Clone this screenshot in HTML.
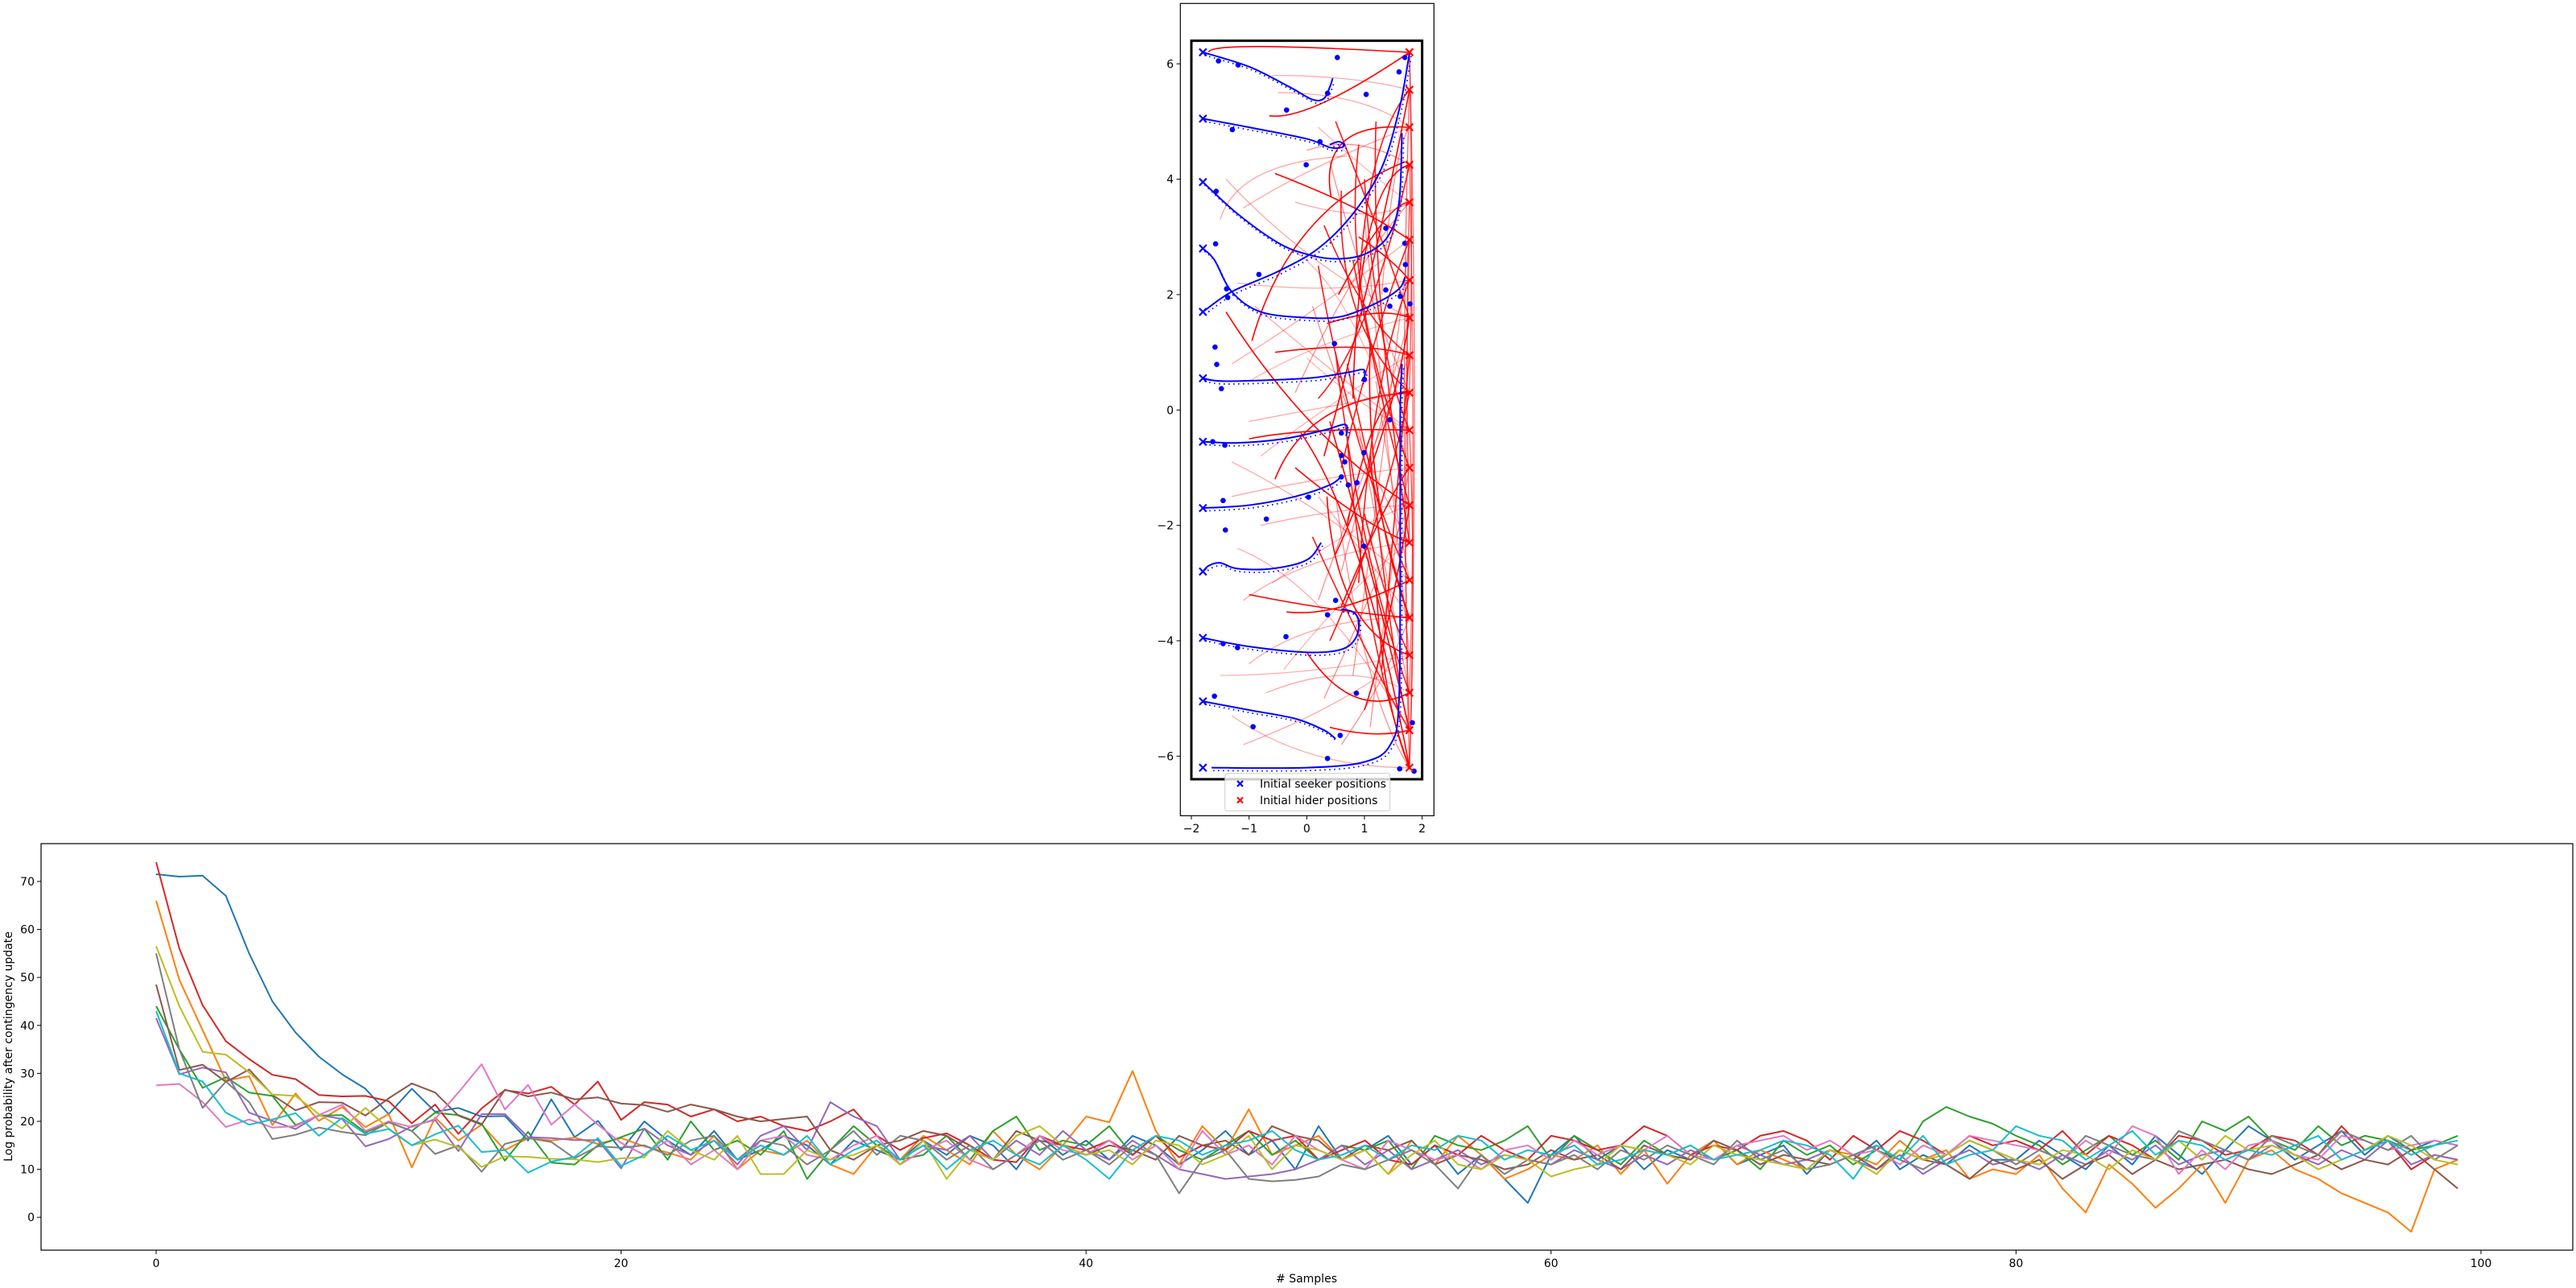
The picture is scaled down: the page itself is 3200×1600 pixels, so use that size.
<!DOCTYPE html>
<html><head><meta charset="utf-8"><style>
html,body{margin:0;padding:0;background:#fff}
svg{display:block;font-family:"DejaVu Sans","Liberation Sans",sans-serif}
</style></head><body>
<svg id="fig" width="3200" height="1600" viewBox="0 0 3200 1600" xmlns="http://www.w3.org/2000/svg">
<rect width="3200" height="1600" fill="#fff"/>
<g id="topG"></g>
<g id="botG"></g>
</svg>
<script>
// ===== Bottom chart data =====
const sampleCount = 100;
const xTicks = [0,20,40,60,80,100];
const yTicks = [0,10,20,30,40,50,60,70];
const seriesColors = ['#1f77b4','#ff7f0e','#2ca02c','#d62728','#9467bd','#8c564b','#e377c2','#7f7f7f','#bcbd22','#17becf'];
const sBlue = [71.5,71,71.2,67,55,45,38.5,33.5,29.8,26.8,21.5,26.8,22,22.8,21,21.1,16,24.6,16.7,20.1,14,20,16,13,18,12,14,17,15,11,16,14,12,16,13,17,15,10,17,13,16,12,17,15,11,14,18,13,16,10,19,12,14,17,11,15,9,13,8,3,13,17,12,15,10,14,12,16,11,13,15,9,14,12,16,10,13,11,15,12,12,16,13,10,15,11,17,13,9,14,19,16,12,15,18,13,17,14,16,15];
const sOrange = [66,49.5,39,28.5,29.4,19.2,25.8,20.1,23,18.8,21.5,10.4,20.8,16,19.3,14,16.5,16,16.6,15.3,16.5,14.8,13.5,12,17,10,14,13,16,11,9,15,12,17,14,11,18,13,10,15,21,19.8,30.5,18,11,19,14,22.5,13,15,17,12,14,9,16,11,17,13,8,10,13,12,15,9,14,7,13,16,11,14,12,10,14,13,11,16,12,14,8,10,9,13,6,1,11,7,2,6,11,3,12,14,10,8,5,3,1,-3,10,12];
const sGreen = [44,35,27,29.2,26,25.3,19.2,21.2,21.3,17.7,19.8,18,21.8,21.3,19.5,11.8,17.8,11.4,11,15,16.7,18.5,12,20,14,16,13,18,8,14,19,15,12,13,17,12,18,21,14,16,15,19,13,17,14,12,15,18,13,16,12,15,14,16,10,17,15,14,16,19,12,17,14,11,16,13,15,12,14,10,16,13,15,11,14,12,20,23,21,19.5,17,15,11,14,17,13,16,12,20,18,21,16,14,19,15,17,16,14,15,17];
const sRed = [74,56,44.2,36.7,33,29.7,28.8,25.5,25.2,25.3,24.2,19.6,23.5,17.4,22.7,26.5,25.8,27.2,23.5,28.3,20.3,24,23.5,21,22.5,20,21,19,18,20,22.5,17,14,16.5,17.5,15,12,11.5,17,15,14,16,13,17,12.5,15,14,18,16,17,12,14,16,12,11,15,13,17,14,12,17,16,14,15,19,17,13,15,14,17,18,16,12,17,14,18,16,13,17,15,16,14,18,13,17,15,12,17,16,13,14,17,16,13,19,14,16,10,13,12];
const sPurple = [41.5,29.8,31.2,30.2,21.8,20.1,18.4,21.3,20.5,14.8,16.3,19,20.3,13.8,21.5,21.5,16.7,16.5,16.1,16.1,10.2,18.5,15,13,16,11,17,19,14,24,21,19,12,15,14,17,12,16,13,18,14,12,16,13,10,9,8,8.5,9,10,12,15,11,14,10,12,14,11,13,12,11,14,12,10,13,11,14,12,15,13,11,12,14,12,10,13,9,12,14,11,12,10,13,11,14,12,15,11,13,14,12,15,13,11,14,12,16,11,13,12];
const sBrown = [48.5,30.7,31.8,28.2,30.8,25.5,22.3,24,23.9,21.2,24.8,27.9,26,21.2,19.3,26.6,25.2,26,24.6,25,23.7,23.4,22,23.5,22.5,21,20,20.5,21,14,12,15,16,18,17,14,12,18,16,15,13,15,14,12,17,15,16,13,19,17,16,12,15,14,16,11,13,12,10,11,14,12,13,10,15,13,12,16,14,11,13,12,11,13,10,14,12,11,8,12,10,12,8,11,13,9,12,10,11,12,10,9,11,13,10,12,11,14,10,6];
const sPink = [27.5,27.8,24,18.8,20.4,18.7,19,21.3,23.5,18,20,18.8,20.5,26,31.9,22.5,27.6,19.3,23.5,19.3,15.5,13,16,11,14,10,16,17,13,12,15,17,11,14,16,12,10,13,17,14,13,16,12,15,10,18,13,15,11,17,14,12,10,16,14,12,13,10,14,15,12,16,13,15,14,17,13,12,15,16,17,14,16,13,14,11,15,13,17,16,15,14,12,16,13,19,17,9,14,10,15,16,13,12,17,16,14,15,16,15];
const sGray = [55,35,22.8,28.3,24,16.3,17.2,18.7,17.8,17.1,19.8,18,13.2,15,9.5,15.3,16.5,15.7,12.3,14.8,14.5,15,13,16,17,12,16,15,11,14,18,13,17,16,12,15,10,13,16,12,14,11,15,13,5,12,14,8,7.5,7.8,8.5,11,10,12,14,11,6,13,9,12,11,13,10,14,12,15,13,11,16,12,14,10,11,13,15,12,10,13,16,14,11,14,12,17,15,13,12,18,16,14,12,17,15,13,18,16,14,17,12,15];
const sOlive = [56.5,44,34.5,33.9,30.2,25.6,25.3,21.5,18.5,22.8,18.5,15,16.2,14.6,10.5,12.7,12.6,12.2,12.1,11.5,12.3,12.5,18,14,12,17,9,9,14,12,13,15,11,16,8,14,12,17,19,15,13,14,11,16,15,11,13,17,10,15,14,12,14,9,13,16,11,10,13,12,8.5,10,11,15,14,13,11,15,13,12,11,10,14,12,9,14,12,13,16,14,12,11,14,13,10,14,12,16,12,17,14,15,13,10,12,14,17,15,12,11];
const sCyan = [43,30,28.3,21.8,19.3,20.4,21.7,17,20.7,17.4,18.4,15,17.3,19.1,13.6,14,9.3,11.6,12.6,16.5,10.7,13,17,14,16,12,15,13,17,11,14,16,12,15,10,14,16,13,11,15,12,8,14,17,16,13,15,16,18,14,12,13,15,12,15,14,17,16,12,14,13,15,11,12,14,13,15,12,13,14,16,15,13,8,15,12,17,11,13,14,19,17,16,12,15,18,13,16,15,12,14,13,15,17,12,14,16,13,15,16];
const allSeries = [sBlue,sOrange,sGreen,sRed,sPurple,sBrown,sPink,sGray,sOlive,sCyan];
const seriesNames = ['blue','orange','green','red','purple','brown','pink','gray','olive','cyan'];

// ===== Top chart data =====
const topTicksX = [-2,-1,0,1,2];
const topTicksY = [-6,-4,-2,0,2,4,6];
const seekerStartY = [6.2,5.05,3.95,2.8,1.7,0.55,-0.55,-1.7,-2.8,-3.95,-5.05,-6.2];
const seekerStartX = -1.8;
const hiderStartY = [6.2,5.55,4.9,4.25,3.6,2.95,2.25,1.6,0.95,0.3,-0.35,-1.0,-1.65,-2.3,-2.95,-3.6,-4.25,-4.9,-5.55,-6.2];
const hiderStartX = 1.78;
const seekerPaths = [
 [[-1.8,6.2],[-1.0,5.95],[-0.3,5.6],[0.1,5.38],[0.3,5.4],[0.4,5.6],[0.45,5.75]],
 [[-1.8,5.05],[-1,4.9],[0,4.7],[0.4,4.55],[0.6,4.55],[0.65,4.6],[0.55,4.65],[0.4,4.6]],
 [[-1.8,3.95],[-1.2,3.4],[-0.5,2.9],[0,2.7],[0.5,2.62],[1,2.7],[1.4,3.0],[1.6,3.6],[1.65,4.8]],
 [[-1.8,2.8],[-1.6,2.6],[-1.3,2.05],[-0.8,1.7],[0,1.6],[0.6,1.62],[1.2,1.85],[1.6,2.1],[1.7,2.3]],
 [[-1.8,1.7],[-1.3,2.05],[-0.5,2.4],[0.2,2.8],[0.8,3.4],[1.3,4.2],[1.6,5.2],[1.75,6.0],[1.78,6.2]],
 [[-1.8,0.55],[-1.4,0.5],[0,0.55],[0.7,0.65],[0.98,0.7],[1.0,0.58],[0.95,0.5]],
 [[-1.8,-0.55],[-1.2,-0.57],[-0.4,-0.5],[0.3,-0.35],[0.65,-0.25],[0.7,-0.35],[0.68,-0.45]],
 [[-1.8,-1.7],[-1,-1.65],[-0.2,-1.5],[0.4,-1.3],[0.6,-1.15]],
 [[-1.8,-2.8],[-1.7,-2.7],[-1.5,-2.65],[-1.2,-2.75],[-0.6,-2.75],[0,-2.6],[0.25,-2.3]],
 [[-1.8,-3.95],[-1,-4.1],[0,-4.2],[0.6,-4.15],[0.85,-3.95],[0.9,-3.65],[0.8,-3.5],[0.6,-3.45]],
 [[-1.8,-5.05],[-1,-5.2],[-0.2,-5.35],[0.3,-5.55],[0.5,-5.7]],
 [[-1.65,-6.2],[0,-6.2],[1,-6.1],[1.45,-5.8],[1.6,-5.0],[1.62,-2],[1.62,0],[1.65,0.8]]
];
const seekerDotsX = [-1.53,-1.19,0.53,0.36,1.03,-0.35,-1.29,0.23,-0.01,-1.57,-1.58,-0.83,1.37,1.7,1.6,1.7,1.71,1.37,1.62,1.44,1.79,-1.39,-1.37,-1.59,-1.56,-1.48,0.48,1.0,-1.63,-1.42,0.6,0.6,0.66,0.99,1.44,0.6,0.72,0.87,-1.45,0.03,-0.7,-1.41,0.99,0.5,0.36,-0.36,-1.45,-1.2,-1.6,-0.93,0.58,0.86,0.36,1.61,1.86,1.83];
const seekerDotsY = [6.05,5.98,6.11,5.49,5.47,5.2,4.86,4.65,4.25,3.79,2.88,2.35,3.15,6.11,5.86,2.89,2.52,2.08,1.97,1.8,1.84,2.1,1.95,1.09,0.79,0.37,1.15,0.53,-0.55,-0.61,-0.4,-0.79,-0.9,-0.74,-0.17,-1.16,-1.3,-1.26,-1.57,-1.51,-1.89,-2.08,-2.36,-3.3,-3.55,-3.93,-4.05,-4.12,-4.96,-5.49,-5.64,-4.91,-6.04,-6.22,-6.26,-5.42];
// hider curves: [x0,y0, cx,cy, x1,y1, opacity]
const hiderCurves = [
 [-1.7,6.2,-1.7,6.4,1.75,6.2,1],[1.78,6.2,0,5.0,-0.65,5.1,1],[1.75,4.9,0.2,5,0.42,3.7,1],[1.7,4.3,-0.3,3.5,-0.95,1.2,1],
 [-0.55,4.1,1,3.5,1.78,2.95,1],[-1.4,1.7,0,-0.5,1.78,-1.65,1],[-1,-0.5,0,-0.3,1.78,-0.35,1],[-0.55,-1.2,0,0.2,1.78,0.3,1],
 [-1,-3.2,0.5,-3.5,1.78,-3.6,1],[-0.35,-3.5,0.5,-3.6,1.78,-2.95,1],[0,-4.2,0.8,-5.4,1.78,-4.9,1],[0.4,-5.5,1.2,-5.7,1.78,-5.55,1],
 [0.35,-1.5,0.5,-3.8,1.78,-4.25,1],[-0.1,-0.4,1,-2,1.78,-6.2,1],[0.4,-0.2,1.2,-3,1.78,-5.55,1],[-0.55,1.0,1,1.2,1.78,0.95,1],
 [0.35,1.5,1.3,1.8,1.78,1.6,1],[0.9,3.0,1.5,2.6,1.78,2.25,1],[0.6,-3.4,1.4,-1.5,1.78,-1.0,1],[0.8,0.2,0.9,4,1.78,4.25,1],
 [0.55,2.0,1.4,3.6,1.78,3.6,1],[-0.2,-1.0,1,-2,1.78,-2.3,1],[1.0,-5.2,1.4,-4,1.78,-1.65,1],[0.5,-2.5,1.5,-0.3,1.78,1.6,1],
 [0.3,-0.8,1.2,2.5,1.78,5.55,1],[1.1,1.2,1.0,-1.5,1.78,-3.6,1],[0.7,-2.0,1.2,0.5,1.78,0.3,1],[1.2,-3.0,1.3,-5,1.78,-6.2,1],
 [-1.5,3.3,-1.2,4.3,0.7,4.4,0.35],[-1.1,3.5,0,4.2,1.78,4.9,0.35],[-1.3,0.8,0,1.6,1.78,2.95,0.35],[-1.0,-0.2,0,0,1.78,0.3,0.35],
 [-1.3,-1.5,0,-1.2,1.78,-1.0,0.35],[-1.1,-3.3,0,-2.5,1.78,-2.3,0.35],[-1.0,-4.4,0,-3.6,1.78,-3.6,0.35],[-1.1,-5.8,0.5,-5.2,1.78,-4.25,0.35],
 [-1.3,-5.3,0,-6.2,1.78,-6.2,0.35],[-0.6,5.8,0.8,5.8,1.78,5.55,0.35],[-0.5,5.5,1,5.5,1.78,4.9,0.35],[-1.2,2.2,0.5,2.0,1.78,2.25,0.35],
 [-0.8,-2.0,0.5,-1.7,1.78,-1.65,0.35],[-1.3,-0.9,0.3,-1.7,1.78,-2.95,0.35],[-1.4,4.0,0,2.5,1.78,1.6,0.35],[-0.9,1.8,0.5,0.6,1.78,-0.35,0.35],
 [-0.7,-4.9,0.8,-4.3,1.78,-4.9,0.35],[-0.2,3.6,1.2,3.2,1.78,3.6,0.35],[0.2,-1.5,1.4,-3,1.78,-3.6,0.35],[-1.2,-2.4,0.3,-3.0,1.78,-5.55,0.35],
 [-1.0,0.5,0.2,1.2,1.78,1.6,0.3],[-0.8,-0.8,0.5,0.2,1.78,0.95,0.3],[-0.4,-4.5,0.8,-3.0,1.78,-2.3,0.3],[-0.3,2.8,0.8,2.2,1.78,-1.0,0.3],
 [0.0,0.9,1.0,0.0,1.78,-0.35,0.3],[-0.6,-3.0,0.8,-2.0,1.78,-1.65,0.3],[0.2,4.9,1.2,4.0,1.78,3.6,0.3],[-1.5,-4.6,0,-4.6,1.78,-4.25,0.3],
 [1.78,6.2,1.95,0,1.78,-6.2,0.6],[1.78,5.55,1.6,0,1.78,-5.55,0.6],[1.78,4.25,1.9,-1,1.78,-4.9,0.6],[1.78,2.95,1.65,-2,1.78,-6.2,0.6],
 [1.78,6.2,1.85,3,1.78,0.3,0.7],[1.78,-0.35,1.9,-3,1.78,-6.2,0.7],[1.78,3.6,1.7,1,1.78,-2.3,0.7],
 [0.6,3.8,0.5,1.5,1.78,0.3,0.9],[0.9,4.6,0.6,2.0,1.78,-1.0,0.9],[0.2,2.5,0.7,-0.5,1.78,-2.95,0.9],[0.5,1.0,0.9,-2.5,1.78,-4.9,0.9],
 [0.7,-0.5,1.0,-4.0,1.78,-6.2,0.9],[0.1,-2.2,1.0,-4.2,1.78,-5.55,0.9],[0.8,2.6,1.3,0.0,1.78,-1.65,0.9],[1.0,4.0,1.2,1.0,1.78,-0.35,0.9],
 [0.3,3.2,1.0,1.5,1.78,0.95,0.9],[0.6,-1.0,1.2,1.5,1.78,2.95,0.9],[0.9,-3.0,1.1,0.5,1.78,2.25,0.9],[0.4,-4.0,1.3,-2.0,1.78,0.3,0.9],
 [1.2,5.0,1.1,2.0,1.78,-2.3,0.9],[0.7,0.8,1.4,-2.5,1.78,-3.6,0.9],[1.0,-1.8,1.4,-3.5,1.78,-4.25,0.9],[0.2,0.2,1.1,1.2,1.78,4.25,0.9],
 [0.9,1.9,1.0,4.6,1.78,5.55,0.9],[1.3,-4.5,1.5,-2.0,1.78,0.95,0.9],[0.5,5.0,1.3,3.0,1.78,1.6,0.9],[1.1,-0.8,1.5,-4.5,1.78,-5.55,0.9],
 [0.4,4.3,1.0,2.0,1.78,0.3,0.45],[0.1,1.8,1.0,-1.0,1.78,-2.3,0.45],[0.6,-2.8,1.2,-0.5,1.78,1.6,0.45],[0.3,-5.0,1.2,-3.0,1.78,-1.65,0.45],
 [1.0,3.3,1.4,-0.5,1.78,-4.25,0.45],[0.8,-4.6,1.3,-1.0,1.78,2.95,0.45],[-0.2,0.3,0.8,2.5,1.78,3.6,0.45],[0.5,-1.5,1.0,-5.0,1.78,-6.2,0.45],
 [1.3,2.0,1.5,4.5,1.78,4.9,0.45],[0.9,-0.3,1.4,-3.0,1.78,-4.9,0.45],[0.2,-3.3,1.0,-1.0,1.78,0.95,0.45],[1.2,0.5,1.5,-1.5,1.78,-2.95,0.45],
 [0.0,4.5,0.9,4.8,1.78,4.25,0.45],[0.6,-5.8,1.3,-4.8,1.78,-3.6,0.45],[1.1,-5.5,1.4,-3.0,1.78,-1.0,0.45]
];

const NS='http://www.w3.org/2000/svg';
function mk(parent, tag, attrs, txt){const e=document.createElementNS(NS,tag);for(const k in attrs)e.setAttribute(k,attrs[k]);if(txt!==undefined)e.textContent=txt;parent.appendChild(e);return e;}

// ===== Top chart =====
const topG = document.getElementById('topG');
const TX = x => 1623.3 + x*71.67;
const TY = y => 509.3 - y*71.67;
function smooth(pts){let d='M'+TX(pts[0][0])+','+TY(pts[0][1]);
 for(let i=0;i<pts.length-1;i++){const p0=pts[Math.max(0,i-1)],p1=pts[i],p2=pts[i+1],p3=pts[Math.min(pts.length-1,i+2)];
  const c1=[p1[0]+(p2[0]-p0[0])/6,p1[1]+(p2[1]-p0[1])/6],c2=[p2[0]-(p3[0]-p1[0])/6,p2[1]-(p3[1]-p1[1])/6];
  d+=' C'+TX(c1[0])+','+TY(c1[1])+' '+TX(c2[0])+','+TY(c2[1])+' '+TX(p2[0])+','+TY(p2[1]);}
 return d;}
const tframe = mk(topG,'rect',{x:1466.3,y:4.3,width:315,height:1009,fill:'#fff',stroke:'#000','stroke-width':1.2});


const tclip = mk(topG,'clipPath',{id:'tc'}); mk(tclip,'rect',{x:1466.3,y:4.3,width:315,height:1009});
const tplot = mk(topG,'g',{'clip-path':'url(#tc)'});


hiderCurves.forEach((c,i)=>{
 const p = mk(tplot,'path',{d:'M'+TX(c[0])+','+TY(c[1])+' Q'+TX(c[2])+','+TY(c[3])+' '+TX(c[4])+','+TY(c[5]),fill:'none',stroke:'#ff0000','stroke-opacity':c[6],'stroke-width':c[6]>0.85?1.6:1.3});
 
 
});
const arena = mk(tplot,'rect',{x:TX(-2),y:TY(6.4),width:TX(2)-TX(-2),height:TY(-6.4)-TY(6.4),fill:'none',stroke:'#000','stroke-width':3});


seekerPaths.forEach((pts,i)=>{
 const dotted = pts.map(p=>[p[0]+0.03,p[1]-0.05]);
 const pd = mk(tplot,'path',{d:smooth(dotted),fill:'none',stroke:'#0000ff','stroke-width':1.8,'stroke-dasharray':'1.5,4.5'});
 
 
 const p = mk(tplot,'path',{d:smooth(pts),fill:'none',stroke:'#0000ff','stroke-width':2});
 
 
});
seekerDotsX.forEach((x,i)=>{
 const c = mk(tplot,'circle',{cx:TX(x),cy:TY(seekerDotsY[i]),r:3.3,fill:'#0000ff'});
 
 
});
function xmark(g,x,y,col,s){return mk(g,'path',{d:`M${x-s},${y-s}L${x+s},${y+s}M${x-s},${y+s}L${x+s},${y-s}`,stroke:col,'stroke-width':2.2,fill:'none'});}
seekerStartY.forEach(y=>{
 const m = xmark(tplot,TX(seekerStartX),TY(y),'#0000ff',4.5);
 
 
});
hiderStartY.forEach(y=>{
 const m = xmark(tplot,TX(hiderStartX),TY(y),'#ff0000',4.5);
 
 
});
topTicksX.forEach(v=>{
 mk(topG,'line',{x1:TX(v),x2:TX(v),y1:1013.3,y2:1018,stroke:'#000','stroke-width':1});
 const t = mk(topG,'text',{x:TX(v),y:1034,'font-size':14,'text-anchor':'middle'},v<0?'\u2212'+(-v):String(v));
 
 
});
topTicksY.forEach(v=>{
 mk(topG,'line',{x1:1461.5,x2:1466.3,y1:TY(v),y2:TY(v),stroke:'#000','stroke-width':1});
 const t = mk(topG,'text',{x:1458,y:TY(v)+5,'font-size':14,'text-anchor':'end'},v<0?'\u2212'+(-v):String(v));
 
 
});
const lg = mk(topG,'g',{});


mk(lg,'rect',{x:1521.7,y:960.7,width:205,height:46.6,rx:3,fill:'#fff','fill-opacity':0.8,stroke:'#cccccc','stroke-width':1});
const le1 = mk(lg,'g',{});


xmark(le1,1540.5,973.5,'#0000ff',3.5);
mk(le1,'text',{x:1565,y:978.5,'font-size':14},'Initial seeker positions');
const le2 = mk(lg,'g',{});


xmark(le2,1540.5,994,'#ff0000',3.5);
mk(le2,'text',{x:1565,y:999,'font-size':14},'Initial hider positions');

// ===== Bottom chart =====
const botG = document.getElementById('botG');
const BX = i => 51 + (i+4.95)*28.88;
const BY = v => 1553 - (v+6.85)*5.96;
const bclip = mk(botG,'clipPath',{id:'bc'}); mk(bclip,'rect',{x:51,y:1048,width:3145,height:505});
const bplot = mk(botG,'g',{'clip-path':'url(#bc)'});


allSeries.forEach((s,k)=>{
 const pts = s.slice(0,sampleCount).map((v,i)=>BX(i).toFixed(1)+','+BY(v).toFixed(1)).join(' ');
 const pl = mk(bplot,'polyline',{points:pts,fill:'none',stroke:seriesColors[k],'stroke-width':2,'stroke-linejoin':'round'});
 
 
});
const bframe = mk(botG,'rect',{x:51,y:1048,width:3145,height:505,fill:'none',stroke:'#000','stroke-width':1.2});


xTicks.forEach(v=>{
 mk(botG,'line',{x1:BX(v),x2:BX(v),y1:1553,y2:1558,stroke:'#000','stroke-width':1});
 const t = mk(botG,'text',{x:BX(v),y:1574,'font-size':14,'text-anchor':'middle'},String(v));
 
 
});
yTicks.forEach(v=>{
 mk(botG,'line',{x1:46,x2:51,y1:BY(v),y2:BY(v),stroke:'#000','stroke-width':1});
 const t = mk(botG,'text',{x:43,y:BY(v)+5,'font-size':14,'text-anchor':'end'},String(v));
 
 
});
const xl = mk(botG,'text',{x:1623,y:1593,'font-size':14,'text-anchor':'middle'},'# Samples');


const yl = mk(botG,'text',{x:0,y:0,'font-size':14,'text-anchor':'middle',transform:'translate(15,1300) rotate(-90)'},'Log probability after contingency update');


</script>
</body></html>
